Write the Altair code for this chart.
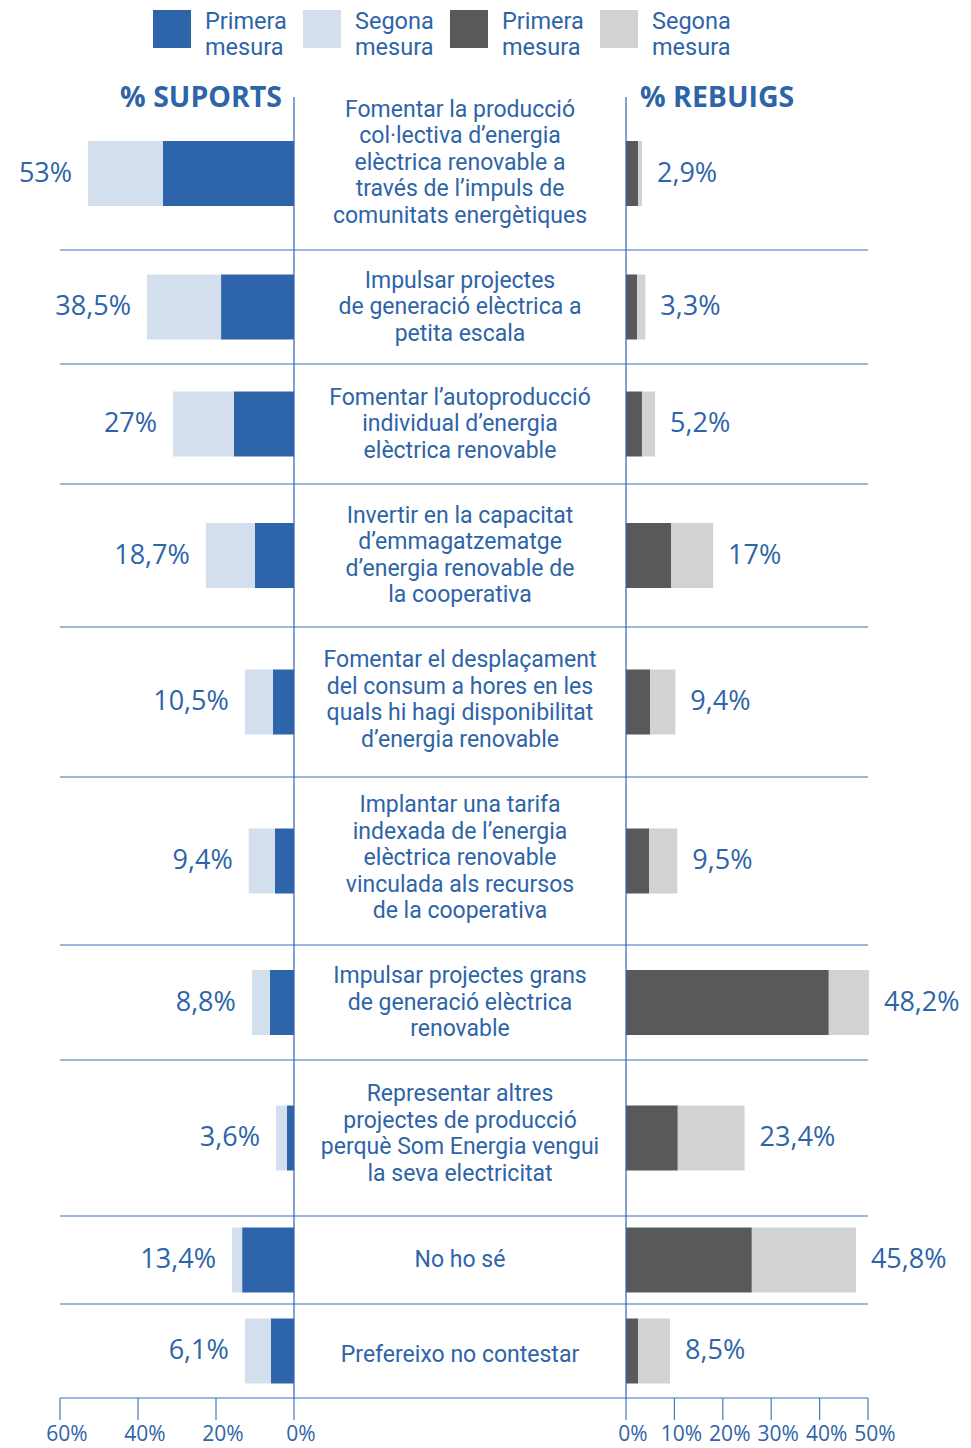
import altair as alt
import pandas as pd

# ---------------- data ----------------
categories = [
    "Fomentar la producció\ncol·lectiva d’energia\nelèctrica renovable a\ntravés de l’impuls de\ncomunitats energètiques",
    "Impulsar projectes\nde generació elèctrica a\npetita escala",
    "Fomentar l’autoproducció\nindividual d’energia\nelèctrica renovable",
    "Invertir en la capacitat\nd’emmagatzematge\nd’energia renovable de\nla cooperativa",
    "Fomentar el desplaçament\ndel consum a hores en les\nquals hi hagi disponibilitat\nd’energia renovable",
    "Implantar una tarifa\nindexada de l’energia\nelèctrica renovable\nvinculada als recursos\nde la cooperativa",
    "Impulsar projectes grans\nde generació elèctrica\nrenovable",
    "Representar altres\nprojectes de producció\nperquè Som Energia vengui\nla seva electricitat",
    "No ho sé",
    "Prefereixo no contestar",
]
support_first = [33.6, 18.7, 15.4, 10.0, 5.4, 4.9, 6.2, 1.8, 13.3, 5.9]
support_second = [19.2, 19.0, 15.6, 12.6, 7.2, 6.7, 4.6, 2.8, 2.6, 6.7]
support_labels = ["53%", "38,5%", "27%", "18,7%", "10,5%", "9,4%", "8,8%", "3,6%", "13,4%", "6,1%"]
reject_first = [2.5, 2.3, 3.3, 9.3, 5.0, 4.8, 41.9, 10.7, 26.0, 2.5]
reject_second = [0.8, 1.7, 2.7, 8.7, 5.2, 5.8, 8.3, 13.8, 21.5, 6.6]
reject_labels = ["2,9%", "3,3%", "5,2%", "17%", "9,4%", "9,5%", "48,2%", "23,4%", "45,8%", "8,5%"]
series_keys = ["s1", "s2", "r1", "r2"]
left_ticks = [0, 20, 40, 60]
left_tick_labels = ["0%", "20%", "40%", "60%"]
right_ticks = [0, 10, 20, 30, 40, 50]
right_tick_labels = ["0%", "10%", "20%", "30%", "40%", "50%"]

# ---------------- layout / style ----------------
TOP = 89
ROW_HEIGHTS = [153, 114, 120, 143, 150, 168, 115, 156, 88, 94]
TEXT_NUDGE = [-11, 0, 0, 0, -2, -3, 0, -4, 0, 4]   # vertical text adjustment per row (px)
BAR_H = 65
LINE_H = 26.5
H = TOP + sum(ROW_HEIGHTS)
W = 952
L_ZERO, L_END = 286, 52        # pixel range of the "% suports" scale
R_ZERO, R_END = 618, 860       # pixel range of the "% rebuigs" scale
CENTER_X = 452
TICK_LEN = 22
BLUE = "#2E64A8"
SEP = "#7A9FCF"
AXC = "#4C79BD"
COLORS = ["#2E64A9", "#D4DFED", "#58595B", "#D1D2D4"]
COND = "Roboto, sans-serif"
NUMF = "Open Sans, Lato, sans-serif"

# ---------------- tables ----------------
bottoms, centers = [], []
acc = TOP
for h in ROW_HEIGHTS:
    bottoms.append(acc + h)
    centers.append(acc + h / 2)
    acc += h

rows = pd.DataFrame({
    "row": list(range(len(categories))),
    "text": categories,
    "center": centers,
    "text_y": [c + n - t.count("\n") * LINE_H / 2 for c, n, t in zip(centers, TEXT_NUDGE, categories)],
    "bottom": bottoms,
    "s_total": [a + b for a, b in zip(support_first, support_second)],
    "r_total": [a + b for a, b in zip(reject_first, reject_second)],
    "s_label": support_labels,
    "r_label": reject_labels,
})


def bars(first, second, k1, k2):
    recs = []
    for i, (a, b) in enumerate(zip(first, second)):
        c = centers[i]
        recs.append({"row": i, "key": k1, "x0": 0.0, "x1": a, "y0": c - BAR_H / 2, "y1": c + BAR_H / 2})
        recs.append({"row": i, "key": k2, "x0": a, "x1": a + b, "y0": c - BAR_H / 2, "y1": c + BAR_H / 2})
    return pd.DataFrame(recs)


left_bars = bars(support_first, support_second, "s1", "s2")
right_bars = bars(reject_first, reject_second, "r1", "r2")
lt = pd.DataFrame({"v": left_ticks, "lab": left_tick_labels})
rt = pd.DataFrame({"v": right_ticks, "lab": right_tick_labels})

yscale = alt.Scale(domain=[0, H], range=[0, H], nice=False, zero=False)
xl = alt.Scale(domain=[0, 60], range=[L_ZERO, L_END], nice=False, zero=False)
xr = alt.Scale(domain=[0, 50], range=[R_ZERO, R_END], nice=False, zero=False)

color = alt.Color(
    "key:N",
    scale=alt.Scale(domain=series_keys, range=COLORS),
    legend=alt.Legend(
        orient="none", legendX=145, legendY=2, direction="horizontal", columns=4,
        title=None, symbolType="square", symbolSize=1444, symbolStrokeWidth=0,
        symbolOpacity=1, labelFont=COND, labelFontSize=23.5, labelColor=BLUE,
        labelOffset=14, columnPadding=16, labelLimit=200, labelBaseline="alphabetic",
        labelExpr="(datum.value == 's1' || datum.value == 'r1') ? ['Primera', 'mesura'] : ['Segona', 'mesura']",
    ),
)

# separators (row bottoms; last one is the axis base line)
sep = alt.Chart(rows).mark_rule(color=SEP, strokeWidth=1.5).encode(
    y=alt.Y("bottom:Q", scale=yscale, axis=None),
    x=alt.value(L_END), x2=alt.value(R_END),
)

# ---- left (supports) ----
lb = alt.Chart(left_bars).mark_bar().encode(
    x=alt.X("x0:Q", scale=xl, axis=None), x2="x1:Q",
    y=alt.Y("y0:Q", scale=yscale, axis=None), y2="y1:Q",
    color=color,
)
llab = alt.Chart(rows).mark_text(align="right", baseline="middle", dx=-16, font=NUMF,
                                 fontSize=27, color=BLUE).encode(
    x=alt.X("s_total:Q", scale=xl, axis=None),
    y=alt.Y("center:Q", scale=yscale, axis=None), text="s_label:N",
)
lvert = alt.Chart(lt).transform_filter("datum.v == 0").mark_rule(color=BLUE, strokeWidth=1.2).encode(
    x=alt.X("v:Q", scale=xl, axis=None), y=alt.value(TOP), y2=alt.value(H),
)
lticks = alt.Chart(lt).mark_rule(color=AXC, strokeWidth=1.2).encode(
    x=alt.X("v:Q", scale=xl, axis=None), y=alt.value(H), y2=alt.value(H + TICK_LEN),
)
ltlab = alt.Chart(lt).mark_text(align="center", baseline="middle", dx=7, font=NUMF,
                                fontSize=21, color=BLUE).encode(
    x=alt.X("v:Q", scale=xl, axis=None), y=alt.value(H + 37), text="lab:N",
)
ltitle = alt.Chart(pd.DataFrame({"t": ["% SUPORTS"]})).mark_text(
    align="right", baseline="middle", font=NUMF, fontSize=28.5, fontWeight="bold", color=BLUE
).encode(x=alt.value(274), y=alt.value(90), text="t:N")

# ---- center ----
ctext = alt.Chart(rows).mark_text(align="center", baseline="middle", lineBreak="\n",
                                  lineHeight=LINE_H, font=COND, fontSize=23, color=BLUE).encode(
    x=alt.value(CENTER_X), y=alt.Y("text_y:Q", scale=yscale, axis=None), text="text:N",
)

# ---- right (rejections) ----
rb = alt.Chart(right_bars).mark_bar().encode(
    x=alt.X("x0:Q", scale=xr, axis=None), x2="x1:Q",
    y=alt.Y("y0:Q", scale=yscale, axis=None), y2="y1:Q",
    color=color,
)
rlab = alt.Chart(rows).mark_text(align="left", baseline="middle", dx=15, font=NUMF,
                                 fontSize=27, color=BLUE).encode(
    x=alt.X("r_total:Q", scale=xr, axis=None),
    y=alt.Y("center:Q", scale=yscale, axis=None), text="r_label:N",
)
rvert = alt.Chart(rt).transform_filter("datum.v == 0").mark_rule(color=BLUE, strokeWidth=1.2).encode(
    x=alt.X("v:Q", scale=xr, axis=None), y=alt.value(TOP), y2=alt.value(H),
)
rticks = alt.Chart(rt).mark_rule(color=AXC, strokeWidth=1.2).encode(
    x=alt.X("v:Q", scale=xr, axis=None), y=alt.value(H), y2=alt.value(H + TICK_LEN),
)
rtlab = alt.Chart(rt).mark_text(align="center", baseline="middle", dx=7, font=NUMF,
                                fontSize=21, color=BLUE).encode(
    x=alt.X("v:Q", scale=xr, axis=None), y=alt.value(H + 37), text="lab:N",
)
rtitle = alt.Chart(pd.DataFrame({"t": ["% REBUIGS"]})).mark_text(
    align="left", baseline="middle", font=NUMF, fontSize=28.5, fontWeight="bold", color=BLUE
).encode(x=alt.value(632), y=alt.value(90), text="t:N")

chart = alt.layer(
    sep, lb, rb, lvert, rvert, lticks, rticks, llab, rlab, ltlab, rtlab, ltitle, rtitle, ctext
).resolve_scale(x="independent").properties(
    width=W, height=H,
    padding={"left": 0, "top": 0, "right": 0, "bottom": 0},
    background="white",
).configure_view(stroke=None)

chart.save("out.html", embed_options={"renderer": "svg", "actions": False})
